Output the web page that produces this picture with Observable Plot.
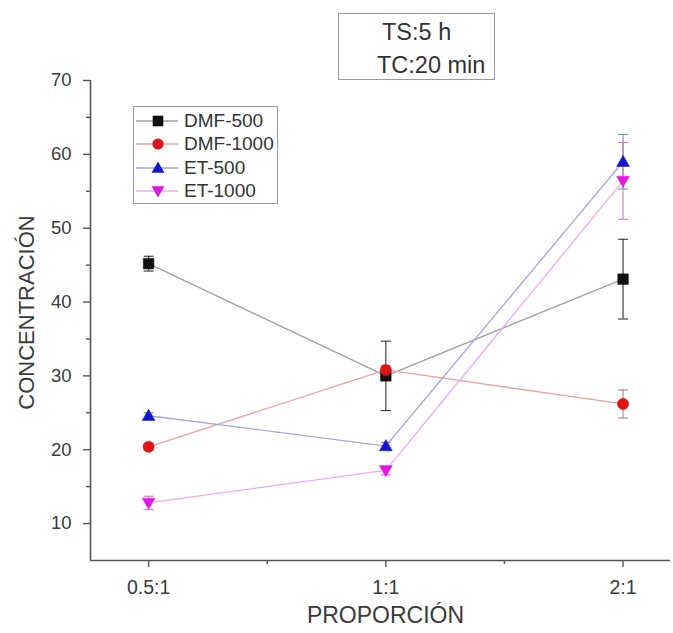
<!DOCTYPE html>
<html><head><meta charset="utf-8">
<script src="https://cdn.jsdelivr.net/npm/d3@7"></script>
<script src="https://cdn.jsdelivr.net/npm/@observablehq/plot@0.6"></script>
<style>
body{margin:0;background:#fff;font-family:"Liberation Sans",Arial,sans-serif}
#wrap{position:relative;width:673px;height:633px;overflow:hidden}
#legend{position:absolute;left:133px;top:106px;width:145px;height:98px;border:1px solid #9a9a9a;background:#fff;box-sizing:border-box;padding-top:2px}
#legend .row{display:flex;align-items:center;height:23.5px;font-size:19px;color:#333}
#legend svg{flex:none;margin-left:1px;margin-right:6px}
#note{position:absolute;left:338px;top:13px;width:157px;height:67px;border:1px solid #9a9a9a;box-sizing:border-box;font-size:23.5px;color:#333;background:#fff}
#note div{position:absolute;white-space:nowrap;line-height:1}
</style></head><body><div id="wrap"></div>
<script>
// ---- data ----
const categories = ["0.5:1", "1:1", "2:1"];
const seriesNames = ["DMF-500", "DMF-1000", "ET-500", "ET-1000"];
const dmf500 = [45.2, 30.0, 43.1];
const dmf500Err = [1.0, 4.7, 5.4];
const dmf1000 = [20.4, 30.8, 26.2];
const dmf1000Err = [0.5, 0.6, 1.9];
const et500 = [24.6, 20.5, 59.0];
const et500Err = [0.4, 0.5, 3.7];
const et1000 = [12.8, 17.2, 56.4];
const et1000Err = [0.9, 0.6, 5.2];
const yTicks = [10, 20, 30, 40, 50, 60, 70];
const yMinorTicks = [15, 25, 35, 45, 55, 65];
const xMinorTicks = [0.5, 1.5];
const noteLines = ["TS:5 h", "TC:20 min"];
const xTitle = "PROPORCIÓN";
const yTitle = "CONCENTRACIÓN";

// ---- symbols ----
const rOf = s => Math.sqrt(s / Math.PI);
const symSquare = {draw(c, s){ const r = rOf(s); c.rect(-r, -r, 2*r, 2*r); }};
const symCircle = {draw(c, s){ const r = rOf(s); c.moveTo(r, 0); c.arc(0, 0, r, 0, 2*Math.PI); }};
const symUp = {draw(c, s){ const r = rOf(s); c.moveTo(0, -r*1.15); c.lineTo(r*1.15, r*0.85); c.lineTo(-r*1.15, r*0.85); c.closePath(); }};
const symDown = {draw(c, s){ const r = rOf(s); c.moveTo(0, r*1.15); c.lineTo(r*1.15, -r*0.85); c.lineTo(-r*1.15, -r*0.85); c.closePath(); }};
const symCap = {draw(c, s){ const r = rOf(s); c.moveTo(-r, 0); c.lineTo(r, 0); }};

const series = [
  {name: seriesNames[0], vals: dmf500, err: dmf500Err, marker: "#111111", line: "#a0a0a0", bar: "#333333", sym: symSquare, r: 5.3},
  {name: seriesNames[1], vals: dmf1000, err: dmf1000Err, marker: "#dd1515", line: "#eaa3a3", bar: "#b08080", sym: symCircle, r: 5.6},
  {name: seriesNames[2], vals: et500, err: et500Err, marker: "#1515cc", line: "#a3a8d8", bar: "#8080b0", sym: symUp, r: 5.6},
  {name: seriesNames[3], vals: et1000, err: et1000Err, marker: "#e018e0", line: "#eeaaee", bar: "#c080c0", sym: symDown, r: 5.6}
];

const marks = [];
// axes
marks.push(Plot.ruleX([-0.245], {y1: 5, y2: 70, stroke: "#555", strokeWidth: 1.6}));
marks.push(Plot.ruleY([5], {x1: -0.245, x2: 2.2, stroke: "#555", strokeWidth: 1.6}));
marks.push(Plot.axisY({ticks: yTicks, tickSize: 7, tickPadding: 12, stroke: "#555", strokeWidth: 1.4, fontSize: 18.5, fill: "#3a3a3a", label: null, tickFormat: d => String(d)}));
marks.push(Plot.axisY({ticks: yMinorTicks, tickSize: 4, stroke: "#555", strokeWidth: 1.4, label: null, tickFormat: () => ""}));
marks.push(Plot.axisX({ticks: [0, 1, 2], tickSize: 7, tickPadding: 13, stroke: "#555", strokeWidth: 1.4, fontSize: 19.5, fill: "#3a3a3a", label: null, tickFormat: i => categories[i]}));
marks.push(Plot.axisX({ticks: xMinorTicks, tickSize: 4, stroke: "#555", strokeWidth: 1.4, label: null, tickFormat: () => ""}));
marks.push(Plot.text([yTitle], {frameAnchor: "left", textAnchor: "middle", rotate: -90, dx: -64, dy: -8, fontSize: 22, fill: "#3a3a3a"}));
marks.push(Plot.text([xTitle], {frameAnchor: "bottom", textAnchor: "middle", dx: 5, dy: 62, fontSize: 23, fill: "#3a3a3a"}));

const rows = series.map(s => s.vals.map((v, i) => ({series: s.name, xi: i, y: v, lo: v - s.err[i], hi: v + s.err[i]})));
// lines
series.forEach((s, k) => marks.push(Plot.line(rows[k], {x: "xi", y: "y", stroke: s.line, strokeWidth: 1.3})));
// error bars + caps
series.forEach((s, k) => {
  marks.push(Plot.ruleX(rows[k], {x: "xi", y1: "lo", y2: "hi", stroke: s.bar, strokeWidth: 1.1}));
  marks.push(Plot.dot(rows[k], {x: "xi", y: "lo", symbol: symCap, r: 5, stroke: s.bar, strokeWidth: 1.1, fill: "none"}));
  marks.push(Plot.dot(rows[k], {x: "xi", y: "hi", symbol: symCap, r: 5, stroke: s.bar, strokeWidth: 1.1, fill: "none"}));
});
// markers
series.forEach((s, k) => marks.push(Plot.dot(rows[k], {x: "xi", y: "y", symbol: s.sym, r: s.r, fill: s.marker, stroke: s.marker, strokeWidth: 0.5, fillOpacity: 1})));

const plot = Plot.plot({
  width: 673, height: 633,
  marginLeft: 90, marginRight: 3, marginTop: 80, marginBottom: 73,
  x: {type: "linear", domain: [-0.245, 2.2], label: null},
  y: {type: "linear", domain: [5, 70], label: null},
  style: {fontFamily: "'Liberation Sans', Arial, sans-serif", fontSize: "18px", color: "#3a3a3a", background: "#fff"},
  marks
});
const wrap = document.getElementById("wrap");
wrap.appendChild(plot);

// legend
const legend = document.createElement("div");
legend.id = "legend";
series.forEach(s => {
  const row = document.createElement("div");
  row.className = "row";
  const svg = d3.create("svg").attr("width", 43).attr("height", 16);
  svg.append("line").attr("x1", 1).attr("x2", 43).attr("y1", 8).attr("y2", 8).attr("stroke", s.line).attr("stroke-width", 1.3);
  const p = d3.path();
  s.sym.draw(p, s.r * s.r * Math.PI);
  svg.append("path").attr("d", p.toString()).attr("transform", "translate(23,8)").attr("fill", s.marker);
  row.appendChild(svg.node());
  const t = document.createElement("span");
  t.textContent = s.name;
  row.appendChild(t);
  legend.appendChild(row);
});
wrap.appendChild(legend);

// note box
const note = document.createElement("div");
note.id = "note";
const n1 = document.createElement("div"); n1.textContent = noteLines[0]; n1.style.left = "43px"; n1.style.top = "7px";
const n2 = document.createElement("div"); n2.textContent = noteLines[1]; n2.style.left = "38px"; n2.style.top = "40px";
note.appendChild(n1); note.appendChild(n2);
wrap.appendChild(note);
</script>
</body></html>
